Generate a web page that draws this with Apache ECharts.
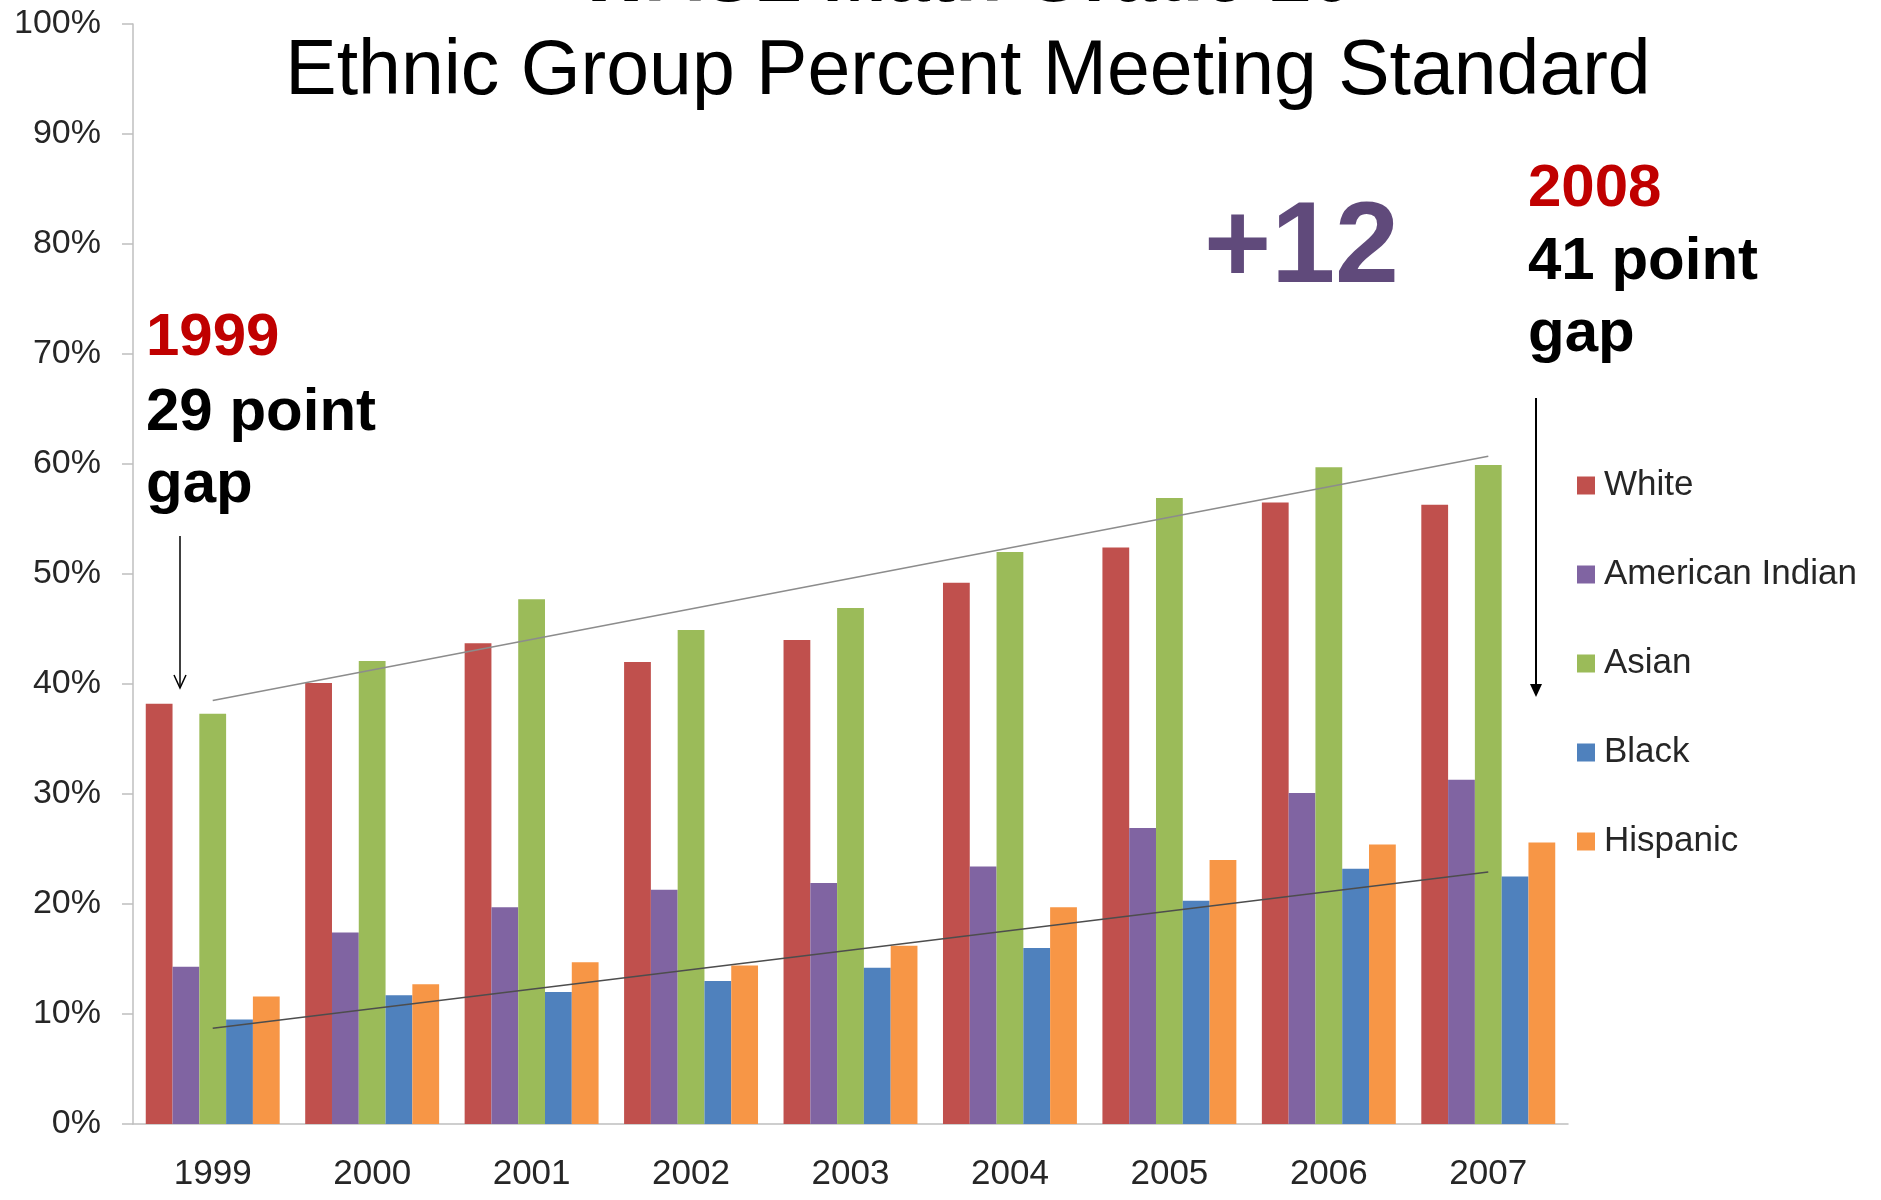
<!DOCTYPE html>
<html>
<head>
<meta charset="utf-8">
<title>WASL Math Grade 10</title>
<script src="https://cdn.jsdelivr.net/npm/echarts@6/dist/echarts.min.js"></script>
<style>
  html, body { margin: 0; padding: 0; background: #fff; }
  #chart { width: 1881px; height: 1200px; }
</style>
</head>
<body>
<div id="chart"></div>
<script>
const years = ['1999', '2000', '2001', '2002', '2003', '2004', '2005', '2006', '2007']
const groups = ['White', 'American Indian', 'Asian', 'Black', 'Hispanic']
const white = [38.2, 40.1, 43.7, 42.0, 44.0, 49.2, 52.4, 56.5, 56.3]
const americanIndian = [14.3, 17.4, 19.7, 21.3, 21.9, 23.4, 26.9, 30.1, 31.3]
const asian = [37.3, 42.1, 47.7, 44.9, 46.9, 52.0, 56.9, 59.7, 59.9]
const black = [9.5, 11.7, 12.0, 13.0, 14.2, 16.0, 20.3, 23.2, 22.5]
const hispanic = [11.6, 12.7, 14.7, 14.4, 16.2, 19.7, 24.0, 25.4, 25.6]
// trend lines drawn from first to last year
const upperTrend = [38.5, 60.7]
const lowerTrend = [8.7, 22.9]

const colors = ['#C0504D', '#8064A2', '#9BBB59', '#4F81BD', '#F79646']
const font = "'Liberation Sans', Arial, sans-serif"

const chart = echarts.init(document.getElementById('chart'))

const barSeries = [white, americanIndian, asian, black, hispanic].map((vals, i) => ({
  name: groups[i],
  type: 'bar',
  barGap: 0,
  barCategoryGap: '16%',
  itemStyle: { color: colors[i] },
  data: vals
}))

const trendLine = (vals, color) => ({
  type: 'line',
  silent: true,
  symbol: 'none',
  z: 5,
  lineStyle: { color: color, width: 1.5 },
  data: [[0, vals[0]], [years.length - 1, vals[1]]]
})

const txt = (text, x, y, size, color, weight, align) => ({
  type: 'text',
  x: x,
  y: y,
  z: 10,
  style: {
    text: text,
    fill: color,
    font: (weight || 'normal') + ' ' + size + 'px ' + font,
    textAlign: align || 'left',
    textVerticalAlign: 'middle'
  }
})

const options = {
  animation: false,
  backgroundColor: '#fff',
  grid: { left: 133, right: 313, top: 24, bottom: 76 },
  legend: {
    data: groups,
    orient: 'vertical',
    left: 1577,
    top: 468,
    padding: 0,
    icon: 'rect',
    itemWidth: 18,
    itemHeight: 18,
    itemGap: 54,
    textStyle: { fontSize: 35, fontFamily: font, color: '#262626', lineHeight: 35, padding: [0, 0, 0, 4] }
  },
  xAxis: {
    type: 'category',
    data: years,
    axisLine: { lineStyle: { color: '#BFBFBF', width: 1.5 } },
    axisTick: { length: 9, lineStyle: { color: '#BFBFBF', width: 1.5 } },
    axisLabel: { fontSize: 35, fontFamily: font, color: '#262626', margin: 33 }
  },
  yAxis: {
    type: 'value',
    min: 0,
    max: 100,
    interval: 10,
    axisLine: { show: true, lineStyle: { color: '#BFBFBF', width: 1.5 } },
    axisTick: { show: true, length: 11, lineStyle: { color: '#BFBFBF', width: 1.5 } },
    splitLine: { show: false },
    axisLabel: { fontSize: 34, fontFamily: font, color: '#262626', margin: 32, formatter: '{value}%' }
  },
  series: barSeries.concat([trendLine(upperTrend, '#8C8C8C'), trendLine(lowerTrend, '#4D4D4D')]),
  graphic: [
    txt('WASL Math Grade 10', 966, -20, 77, '#000', 'bold', 'center'),
    txt('Ethnic Group Percent Meeting Standard', 968, 73, 77, '#000', 'normal', 'center'),
    txt('1999', 146, 338, 60, '#C00000', 'bold'),
    txt('29 point', 146, 413, 60, '#000', 'bold'),
    txt('gap', 146, 485, 60, '#000', 'bold'),
    txt('+12', 1204, 250, 115, '#604A7B', 'bold'),
    txt('2008', 1528, 189, 60, '#C00000', 'bold'),
    txt('41 point', 1528, 262, 60, '#000', 'bold'),
    txt('gap', 1528, 334, 60, '#000', 'bold'),
    { type: 'line', z: 10, shape: { x1: 180, y1: 536, x2: 180, y2: 686 }, style: { stroke: '#000', lineWidth: 1.5 } },
    { type: 'polyline', z: 10, shape: { points: [[174, 675], [180, 688], [186, 675]] }, style: { stroke: '#000', lineWidth: 1.5, fill: null } },
    { type: 'line', z: 10, shape: { x1: 1536, y1: 398, x2: 1536, y2: 688 }, style: { stroke: '#000', lineWidth: 2 } },
    { type: 'polygon', z: 10, shape: { points: [[1530, 684], [1542, 684], [1536, 697]] }, style: { fill: '#000' } }
  ]
}

chart.setOption(options)
</script>
</body>
</html>
